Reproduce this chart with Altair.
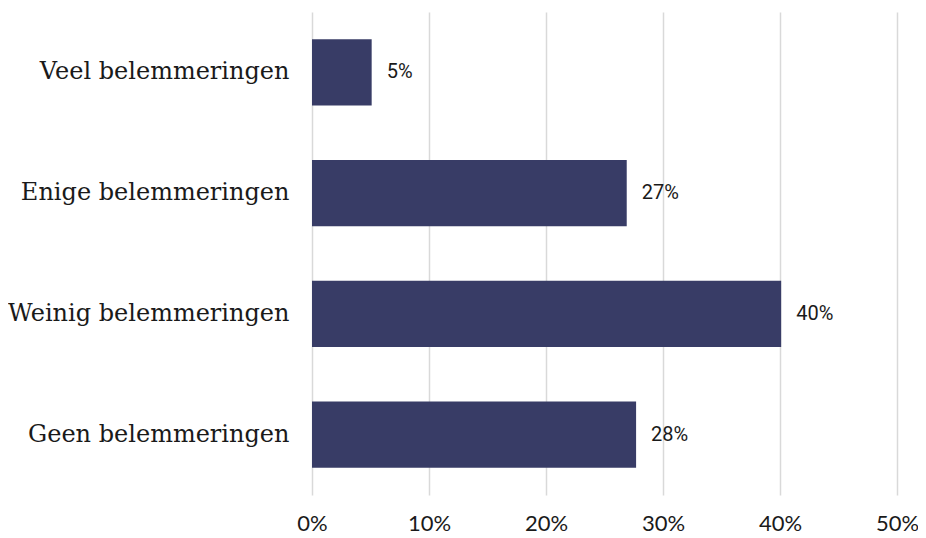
import altair as alt
import pandas as pd

categories = ["Veel belemmeringen", "Enige belemmeringen", "Weinig belemmeringen", "Geen belemmeringen"]
values = [5.1, 26.9, 40.1, 27.7]
labels = ["5%", "27%", "40%", "28%"]

df = pd.DataFrame({"cat": categories, "val": values, "lab": labels})

y = alt.Y("cat:N", sort=categories, title=None,
          scale=alt.Scale(paddingInner=0.45, paddingOuter=0.225),
          axis=alt.Axis(domain=False, ticks=False, labelFont="DejaVu Serif",
                        labelFontSize=24, labelColor="#1a1a1a", labelPadding=23,
                        labelLimit=400))
x = alt.X("val:Q", title=None,
          scale=alt.Scale(domain=[0, 50], nice=False),
          axis=alt.Axis(values=[0, 10, 20, 30, 40, 50], labelExpr="datum.value + '%'",
                        domain=False, ticks=False, grid=True, gridColor="#d9d9d9",
                        gridWidth=1.5, labelFont="Lato", labelFontSize=22,
                        labelFlush=False, labelColor="#1a1a1a", labelPadding=18))

bars = alt.Chart(df).mark_bar(color="#383c66").encode(x=x, y=y)
text = alt.Chart(df).mark_text(align="left", baseline="middle", dx=15, font="Roboto",
                               fontSize=20, color="#1a1a1a").encode(
    x="val:Q", y=alt.Y("cat:N", sort=categories), text="lab:N")

chart = (bars + text).properties(
    width=585, height=483,
    autosize=alt.AutoSizeParams(type="none"),
    padding={"left": 304, "top": 4, "right": 21, "bottom": 42},
).configure_view(stroke=None)

chart.save("out.html", embed_options={"renderer": "svg", "actions": False})
